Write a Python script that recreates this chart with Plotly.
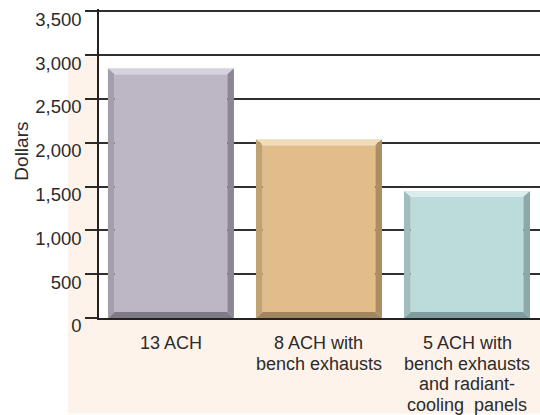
import plotly.graph_objects as go

# ---- data ----
categories = ["13 ACH", "8 ACH with\nbench exhausts", "5 ACH with\nbench exhausts\nand radiant-\ncooling  panels"]
values = [2850, 2040, 1450]
y_ticks = [0, 500, 1000, 1500, 2000, 2500, 3000, 3500]
y_title = "Dollars"

# ---- styles ----
face = ["#BCB6C5", "#E1BD8A", "#BBDCDB"]
top_c = ["#D6D2DD", "#F1DCB9", "#DAECEB"]
left_c = ["#A39EAB", "#C2A173", "#9EBDBD"]
right_c = ["#8B8694", "#AB8E66", "#8EA8A8"]
bot_c = ["#7F7A87", "#A2865F", "#7F9D9E"]

FONT = "Liberation Sans, Arial, sans-serif"
TXT = "#2b2b2b"

half_w = 0.4257          # half bar width in category units
bx = 0.045               # bevel thickness, x units
by = 68                  # bevel thickness, y units

fig = go.Figure()

def poly(xs, ys, color):
    fig.add_trace(go.Scatter(x=xs + [xs[0]], y=ys + [ys[0]], fill="toself", mode="lines",
                             line=dict(width=0, color=color), fillcolor=color,
                             hoverinfo="skip", showlegend=False))

for i, v in enumerate(values):
    x0, x1 = i - half_w, i + half_w
    y0, y1 = 0, v
    poly([x0 + bx, x1 - bx, x1 - bx, x0 + bx], [y0 + by, y0 + by, y1 - by, y1 - by], face[i])
    poly([x0, x1, x1 - bx, x0 + bx], [y1, y1, y1 - by, y1 - by], top_c[i])
    poly([x0, x0 + bx, x0 + bx, x0], [y1, y1 - by, y0 + by, y0], left_c[i])
    poly([x1, x1 - bx, x1 - bx, x1], [y1, y1 - by, y0 + by, y0], right_c[i])
    poly([x0, x1, x1 - bx, x0 + bx], [y0, y0, y0 + by, y0 + by], bot_c[i])

# category labels, one annotation per line for tight line spacing
for i, lab in enumerate(categories):
    for j, line in enumerate(lab.split("\n")):
        fig.add_annotation(x=i, xref="x", y=0, yref="paper", text=line, showarrow=False,
                           yanchor="middle", xanchor="center", yshift=-25 - 20.6 * j,
                           font=dict(family=FONT, size=18, color=TXT))

fig.add_annotation(x=-0.175, xref="paper", y=0.541, yref="paper", text=y_title,
                   textangle=-90, showarrow=False, xanchor="center", yanchor="middle",
                   font=dict(family=FONT, size=19, color=TXT))

# peach backdrop (left strip and bottom band)
peach = "#FEF3EA"
fig.add_shape(type="rect", xref="paper", yref="paper", x0=-0.0703, x1=0.0, y0=0.0, y1=0.845,
              fillcolor=peach, line=dict(width=0), layer="below")
fig.add_shape(type="rect", xref="paper", yref="paper", x0=-0.0703, x1=1.0, y0=-0.31, y1=0.0,
              fillcolor=peach, line=dict(width=0), layer="below")

fig.update_layout(
    width=540, height=415,
    margin=dict(l=99, r=0, t=9, b=97),
    paper_bgcolor="white", plot_bgcolor="white",
    showlegend=False,
    font=dict(family=FONT, size=18, color=TXT),
    xaxis=dict(range=[-0.486, 2.493], showgrid=False, zeroline=False, showticklabels=False,
               ticks="", showline=True, linecolor="#222", linewidth=1.6, fixedrange=True),
    yaxis=dict(range=[0, 3525], tickvals=y_ticks, tickformat=",", ticks="outside", ticklen=12,
               tickcolor="#2a2a2a", tickwidth=1.7, showgrid=True, gridcolor="#2f2f2f", gridwidth=1.7,
               zeroline=False, showline=True, linecolor="#222", linewidth=1.6,
               ticklabelshift=8, ticklabelstandoff=0, automargin=False,
               tickfont=dict(family=FONT, size=18.5, color=TXT), fixedrange=True),
)

fig.write_html("out.html", config={"displayModeBar": False},
               post_script="document.body.style.margin='0px';document.body.style.overflow='hidden';")
